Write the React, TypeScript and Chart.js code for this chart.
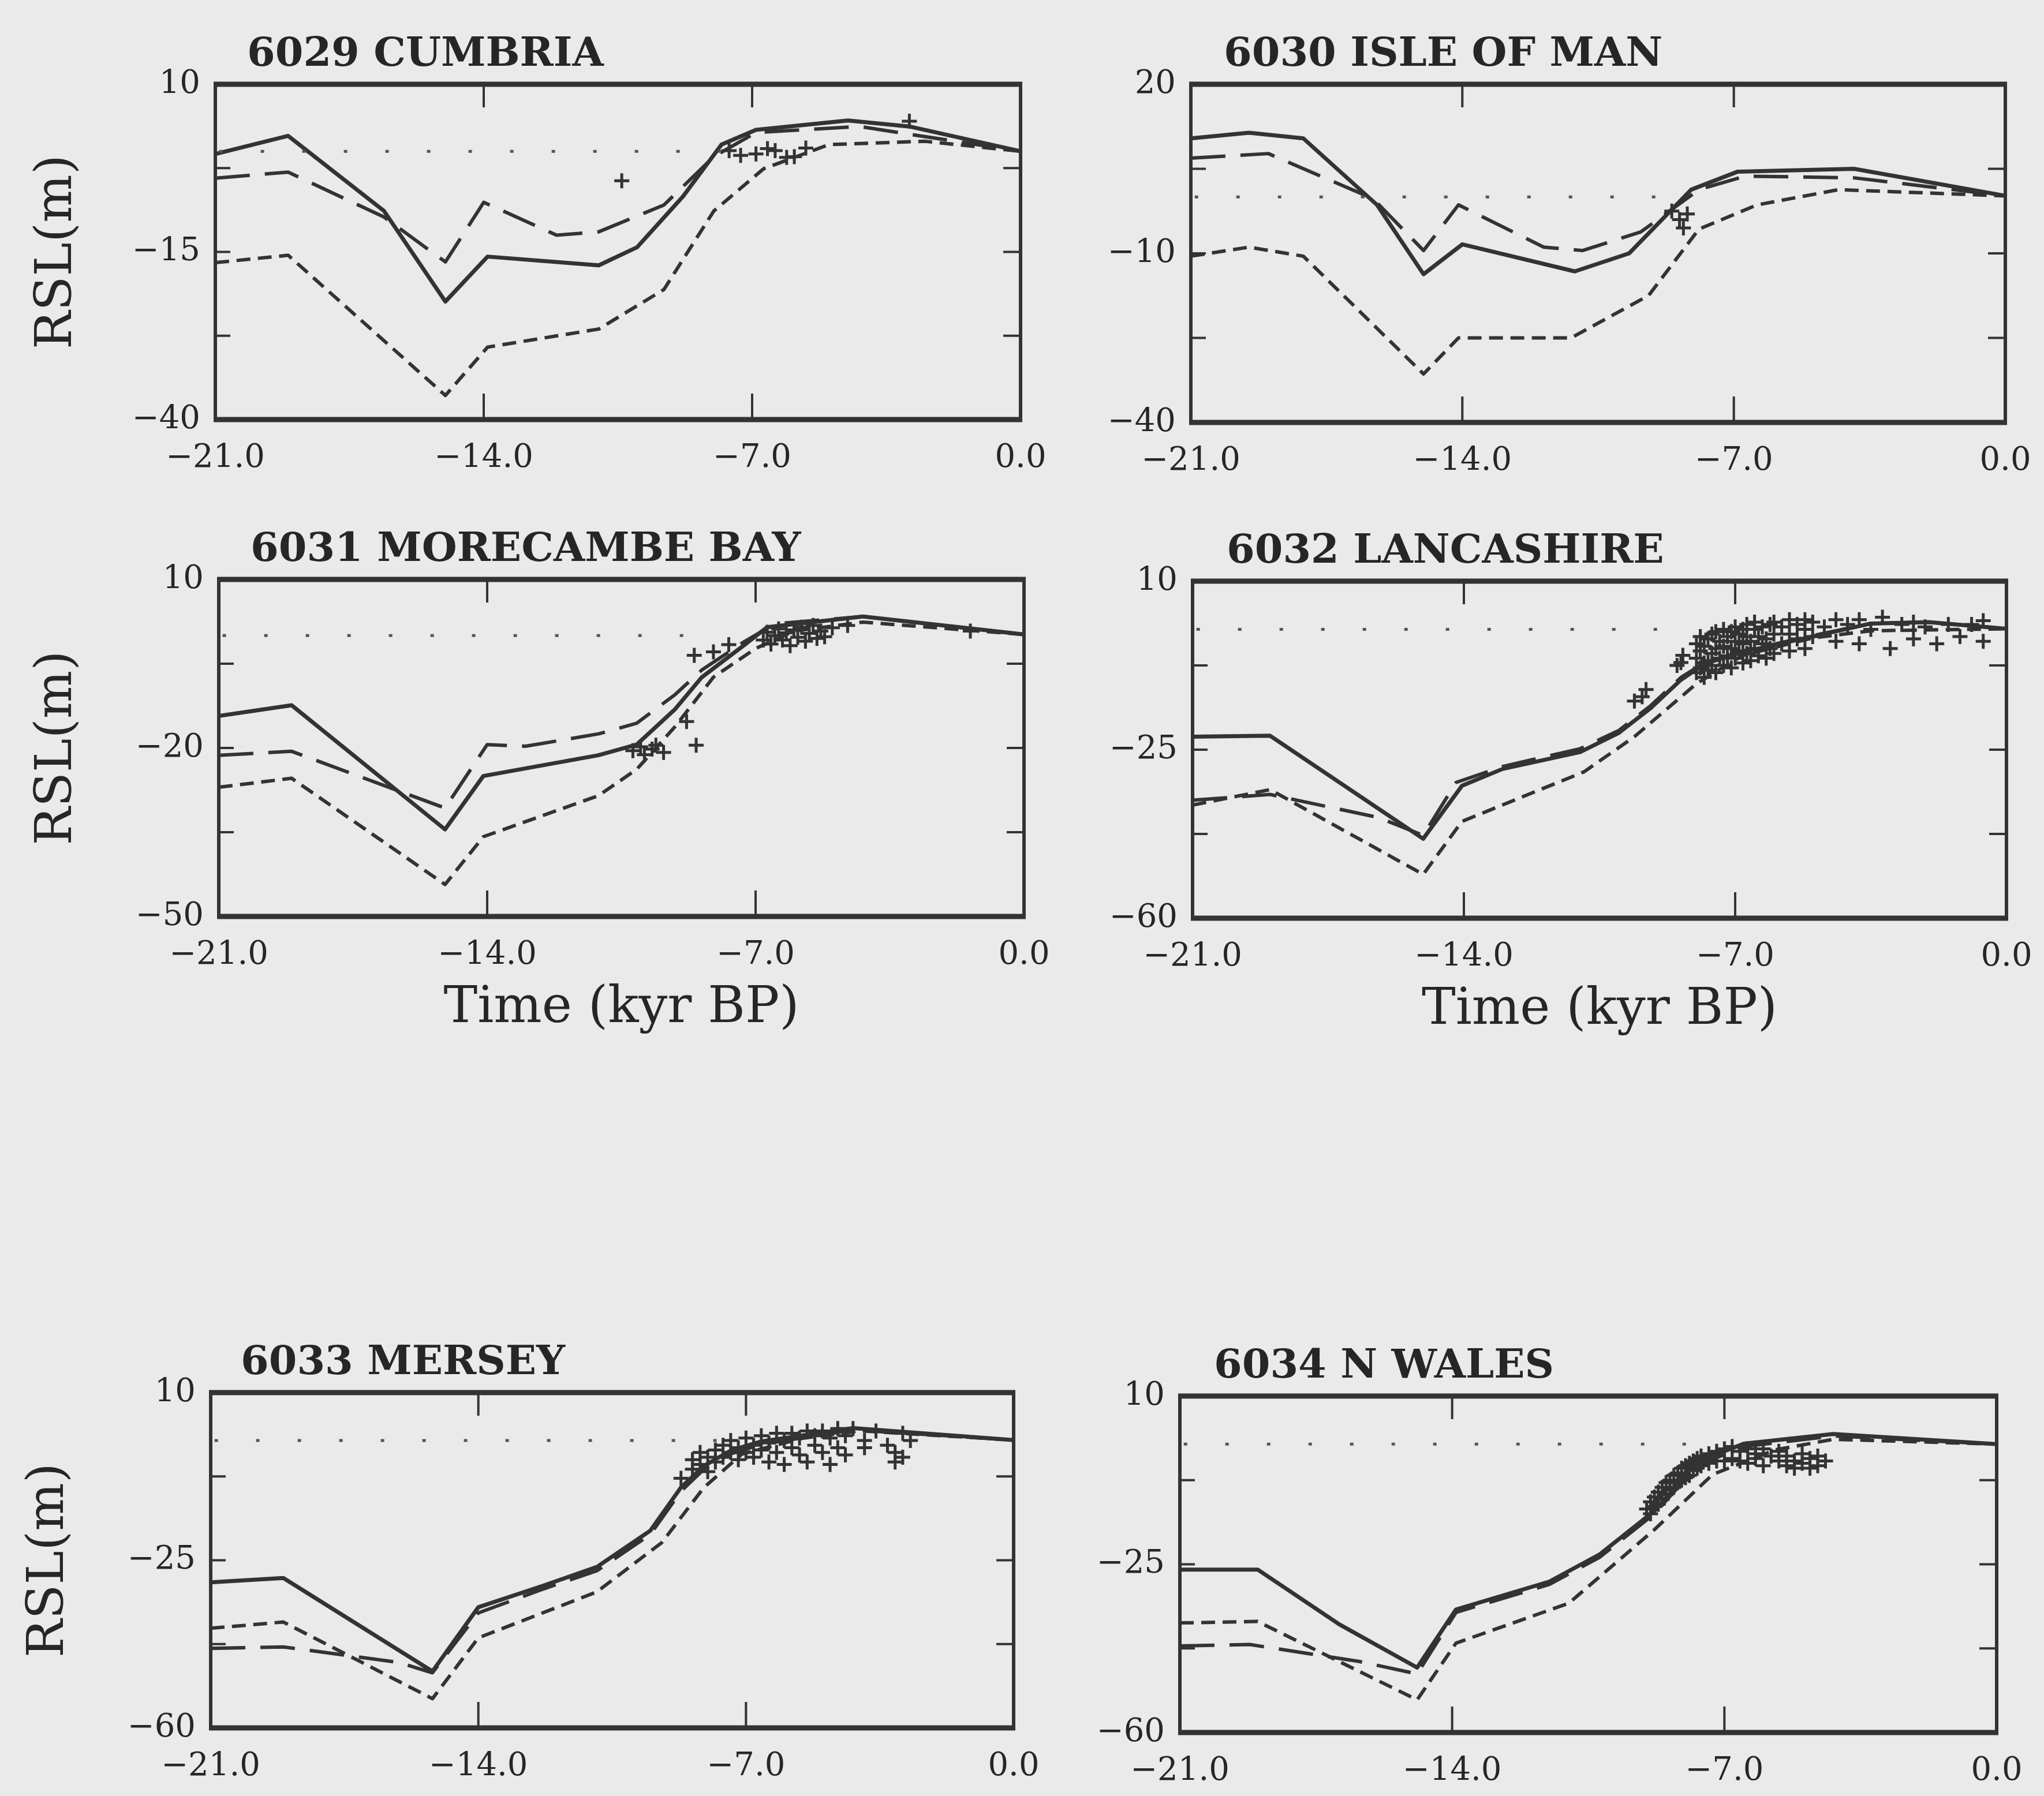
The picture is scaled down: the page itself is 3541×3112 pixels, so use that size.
import React, { useEffect, useRef } from 'react';
import { Chart, registerables } from 'chart.js';

Chart.register(...registerables);

type Pt = [number, number];

// ---------------- shared text / tick values ----------------
const timeTicks = [-21, -14, -7, 0];
const yAxisTitle = 'RSL(m)';
const xAxisTitle = 'Time (kyr BP)';
const panelTitles = [
  '6029 CUMBRIA',
  '6030 ISLE OF MAN',
  '6031 MORECAMBE BAY',
  '6032 LANCASHIRE',
  '6033 MERSEY',
  '6034 N WALES',
];

// ---------------- 6029 CUMBRIA ----------------
const cumbriaYTicks = [10, -2.5, -15, -27.5, -40];
const cumbriaYLabels = [10, -15, -40];
const cumbriaZeroEnd = -7.8;
const cumbriaSolid: Pt[] = [
  [-21, -0.4], [-19.1, 2.3], [-16.6, -8.9], [-15, -22.4], [-13.9, -15.7], [-11, -17],
  [-10, -14.3], [-8.8, -6.7], [-7.8, 1], [-6.9, 3.2], [-4.5, 4.6], [-2.9, 3.7], [0, 0],
];
const cumbriaLongDash: Pt[] = [
  [-21, -4], [-19.1, -3.1], [-16.6, -9.8], [-15, -16.5], [-14, -7.6], [-12.1, -12.5],
  [-11, -12], [-9.3, -8], [-8, -0.8], [-6.9, 2.8], [-4.2, 3.7], [0, 0],
];
const cumbriaShortDash: Pt[] = [
  [-21, -16.6], [-19.1, -15.5], [-15, -36.4], [-13.9, -29.2], [-11, -26.5], [-9.3, -20.6],
  [-8, -8.9], [-6.7, -2.6], [-5, 1], [-2.5, 1.5], [0, 0],
];
const cumbriaObs: Pt[] = [
  [-10.4, -4.4], [-7.6, 0.1], [-7.3, -0.6], [-6.9, -0.4], [-6.6, 0.4], [-6.4, 0.1],
  [-6.1, -0.9], [-5.9, -0.8], [-5.6, 0.5], [-2.9, 4.5],
];

// ---------------- 6030 ISLE OF MAN ----------------
const isleYTicks = [20, 5, -10, -25, -40];
const isleYLabels = [20, -10, -40];
const isleZeroEnd = -8.4;
const isleSolid: Pt[] = [
  [-21, 10.4], [-19.5, 11.4], [-18.1, 10.4], [-16.2, -1.4], [-15, -13.7], [-14, -8.4],
  [-11.1, -13.2], [-9.7, -10], [-8.1, 1.3], [-6.9, 4.5], [-3.9, 5], [0, 0.2],
];
const isleLongDash: Pt[] = [
  [-21, 6.9], [-19, 7.7], [-16.3, -0.3], [-15, -9.5], [-14.1, -1.4], [-11.9, -8.9],
  [-10.9, -9.5], [-9.4, -6.2], [-7.9, 1.3], [-6.7, 3.7], [-3.9, 3.4], [0, 0.2],
];
const isleShortDash: Pt[] = [
  [-21, -10.5], [-19.5, -8.9], [-18.1, -10.5], [-15, -31.4], [-14.1, -25], [-11.2, -25],
  [-9.2, -17.5], [-7.9, -5.7], [-6.4, -1.4], [-4.3, 1.3], [0, 0.2],
];
const isleObs: Pt[] = [[-8.6, -2.5], [-8.4, -4], [-8.3, -5.5], [-8.2, -3]];

// ---------------- 6031 MORECAMBE BAY ----------------
const morecambeYTicks = [10, -5, -20, -35, -50];
const morecambeYLabels = [10, -20, -50];
const morecambeZeroEnd = -8.7;
const morecambeSolid: Pt[] = [
  [-21, -14.3], [-19.1, -12.4], [-15.1, -34.5], [-14.1, -25], [-11.1, -21.3], [-10.1, -19.4],
  [-9.1, -13.1], [-8.4, -7.4], [-7.3, -1.7], [-6.7, 1.5], [-4.2, 3.4], [0, 0.2],
];
const morecambeLongDash: Pt[] = [
  [-21, -21.3], [-19.1, -20.6], [-15.1, -30.7], [-14, -19.4], [-13, -19.7], [-11.1, -17.5],
  [-10.1, -15.6], [-9.1, -10.5], [-8.4, -6.1], [-7.3, -1.1], [-6.5, 2.1], [-4.2, 3.4], [0, 0.2],
];
const morecambeShortDash: Pt[] = [
  [-21, -27], [-19.1, -25.4], [-15.1, -44.3], [-14.1, -35.8], [-11.1, -28.5], [-10.1, -23.8],
  [-9.1, -16.2], [-8.1, -7.4], [-7, -2.3], [-6, 0.8], [-4.2, 2.4], [0, 0.2],
];
const morecambeObs: Pt[] = [
  [-10.2, -20.5], [-10, -19.8], [-9.9, -21.2], [-9.7, -20.2], [-9.6, -19.5], [-9.4, -20.8],
  [-8.55, -19.5], [-8.8, -15.3], [-8.6, -3.5], [-8.1, -2.9], [-7.7, -1.6],
  [-6.8, -0.8], [-6.7, 0.6], [-6.6, -1.5], [-6.5, 0], [-6.4, 1.2], [-6.3, -0.8], [-6.2, 0.5],
  [-6.1, -1.8], [-6, 1], [-5.9, -0.3], [-5.8, 1.5], [-5.7, -1], [-5.6, 0.4], [-5.5, 1.8],
  [-5.4, -0.5], [-5.3, 0.8], [-5.2, -0.2], [-5, 1.4], [-4.6, 1.8], [-1.4, 0.8],
];

// ---------------- 6032 LANCASHIRE ----------------
const lancsYTicks = [10, -7.5, -25, -42.5, -60];
const lancsYLabels = [10, -25, -60];
const lancsZeroEnd = -8.7;
const lancsSolid: Pt[] = [
  [-21, -22.3], [-19, -22.1], [-15.05, -43.5], [-14.05, -32.5], [-13, -29], [-11, -25.5],
  [-10, -21.5], [-9.2, -16.5], [-8.4, -10.5], [-7.8, -7.2], [-6.8, -4.7], [-5, -1.5],
  [-3.5, 1.2], [-2, 1.5], [0, 0.1],
];
const lancsLongDash: Pt[] = [
  [-21, -35.5], [-19, -34.3], [-16.2, -39.1], [-15.05, -42.8], [-14.2, -31.8], [-13, -28.5],
  [-11, -24.8], [-10, -21], [-9.2, -16], [-8.4, -10], [-7.8, -7], [-6.8, -4.5], [-5, -1.3],
  [-3.5, 1.2], [-2, 1.5], [0, 0.1],
];
const lancsShortDash: Pt[] = [
  [-21, -36.5], [-19, -33.3], [-15.05, -50.9], [-14.05, -39.9], [-10.9, -29.6], [-9.6, -22.3],
  [-8, -11.3], [-6.8, -5.4], [-5, -1.8], [-3.5, -0.3], [0, 0.1],
];
const lancsObs: Pt[] = [
  [-9.6, -14.9], [-9.4, -14], [-9.3, -12.5], [-8.5, -7.5], [-8.4, -6.9], [-8.35, -5.4],
  [-8, -9], [-8, -6], [-8, -3], [-7.9, -8], [-7.9, -4.5], [-7.9, -1.5],
  [-7.8, -10], [-7.8, -7], [-7.8, -3.5], [-7.7, -6.5], [-7.7, -2], [-7.7, -8.5],
  [-7.6, -5], [-7.6, -1], [-7.6, -7.5], [-7.5, -9], [-7.5, -4], [-7.5, -0.5],
  [-7.4, -6], [-7.4, -2.5], [-7.3, -7.5], [-7.3, -3.5], [-7.3, 0], [-7.2, -5.5], [-7.2, -1.5],
  [-7.1, -8], [-7.1, -4], [-7.1, -0.5], [-7, -6], [-7, -2.5], [-7, 0.5], [-6.9, -4.5], [-6.9, -1],
  [-6.8, -7], [-6.8, -3], [-6.8, 0], [-6.7, -5], [-6.7, -1.5], [-6.7, 1], [-6.6, -6.5], [-6.6, -2.5],
  [-6.5, -4], [-6.5, 0], [-6.5, 1.5], [-6.4, -5.5], [-6.4, -1.5], [-6.3, -3], [-6.3, 0.5],
  [-6.2, -6], [-6.2, -2], [-6.1, -4], [-6.1, 1], [-6, -5], [-6, -1], [-6, 1.5],
  [-5.8, -3], [-5.8, 0.5], [-5.6, -4.5], [-5.6, -1], [-5.6, 2], [-5.4, -2], [-5.4, 1],
  [-5.2, -4], [-5.2, 0], [-5.2, 2], [-5, -1.5], [-5, 1.5],
  [-4.7, 0.5], [-4.4, -2.5], [-4.4, 2], [-4.1, 1], [-3.8, -3], [-3.8, 2], [-3.5, 0],
  [-3.2, 2.5], [-3, -4], [-2.7, 1], [-2.4, -2], [-2.4, 1.5], [-2.1, 0.5], [-1.8, -3],
  [-1.5, 1], [-1.2, -1.5], [-0.9, 1], [-0.6, -2.5], [-0.6, 1.8],
];

// ---------------- 6033 MERSEY ----------------
const merseyYTicks = [10, -7.5, -25, -42.5, -60];
const merseyYLabels = [10, -25, -60];
const merseyZeroEnd = -7.6;
const merseySolid: Pt[] = [
  [-21, -29.6], [-19.1, -28.7], [-15.2, -48.2], [-14, -34.8], [-12.3, -30.3], [-10.9, -26.4],
  [-9.5, -18.8], [-8.7, -9.8], [-8.1, -5.3], [-7.4, -2.1], [-6.6, -0.2], [-4.2, 2.6], [0, 0.1],
];
const merseyLongDash: Pt[] = [
  [-21, -43.4], [-19.1, -43.1], [-16.1, -46.3], [-15.2, -48.5], [-14, -36], [-12.3, -31],
  [-10.9, -27.2], [-9.5, -19.6], [-8.7, -10.6], [-8.1, -6], [-7.4, -2.8], [-6.6, -0.8],
  [-4.2, 2.2], [0, 0.1],
];
const merseyShortDash: Pt[] = [
  [-21, -39.2], [-19.1, -37.9], [-15.2, -53.9], [-14, -41.2], [-10.9, -31.6], [-9.2, -21.3],
  [-8.1, -9.8], [-7.1, -2.8], [-5.5, 0.5], [-4, 2], [0, 0.1],
];
const merseyObs: Pt[] = [
  [-8.7, -7.9], [-8.4, -6], [-8.4, -4], [-8.2, -5], [-8.2, -2.5], [-8, -3.5], [-8, -6.5],
  [-7.8, -2], [-7.8, -4.5], [-7.6, -1], [-7.6, -3.5], [-7.4, -2.5], [-7.4, 0], [-7.2, -1.5],
  [-7.2, -4], [-7, 0.5], [-7, -2.5], [-6.8, -1], [-6.8, -3.5], [-6.6, 1], [-6.6, -2],
  [-6.4, -0.5], [-6.4, -4.5], [-6.2, 1.5], [-6.2, -2.5], [-6, 0], [-6, -5], [-5.8, 1.5],
  [-5.8, -1.5], [-5.6, -3], [-5.6, 0.5], [-5.4, 2], [-5.4, -4.5], [-5.2, -1], [-5.2, 1],
  [-5, -2.5], [-5, 2], [-4.8, 0.5], [-4.8, -5], [-4.6, 2.5], [-4.6, -1.5], [-4.4, 1],
  [-4.4, -3], [-4.2, 2.5], [-3.9, 0], [-3.9, -1.5], [-3.6, 2], [-3.3, -1], [-3.1, -4.5],
  [-3.1, -2.5], [-2.9, 1.5], [-2.9, -3.5], [-2.7, 0],
];

// ---------------- 6034 N WALES ----------------
const walesYTicks = [10, -7.5, -25, -42.5, -60];
const walesYLabels = [10, -25, -60];
const walesZeroEnd = -7.9;
const walesSolid: Pt[] = [
  [-21, -26.1], [-19, -26.1], [-16.9, -37.5], [-14.9, -46.5], [-13.9, -34.4], [-11.5, -28.6],
  [-10.2, -22.9], [-8.8, -13.9], [-7.7, -3.7], [-6.5, 0.1], [-4.2, 2.1], [0, 0],
];
const walesLongDash: Pt[] = [
  [-21, -42], [-19.2, -41.7], [-16.4, -45.2], [-14.9, -47.8], [-13.9, -35], [-11.5, -29.2],
  [-10.2, -23.5], [-8.8, -14.5], [-7.7, -4.5], [-6.5, -0.5], [-4.2, 1.7], [0, 0],
];
const walesShortDash: Pt[] = [
  [-21, -37.2], [-19, -36.9], [-14.9, -53.2], [-13.9, -41.4], [-11, -33.1], [-8.8, -17.8],
  [-7.3, -6.3], [-5.7, -1.2], [-4.2, 1], [0, 0],
];
const walesObs: Pt[] = [
  [-9, -13.5], [-8.9, -12], [-8.9, -14.5], [-8.8, -11], [-8.8, -13], [-8.7, -10], [-8.7, -12.5],
  [-8.6, -9], [-8.6, -11.5], [-8.5, -8], [-8.5, -10.5], [-8.4, -7.5], [-8.4, -9.5], [-8.3, -6.5],
  [-8.3, -9], [-8.2, -6], [-8.2, -8], [-8.1, -5], [-8.1, -7.5], [-8, -4.5], [-8, -7],
  [-7.9, -4], [-7.9, -6.5], [-7.8, -3.5], [-7.8, -5.5], [-7.7, -3], [-7.7, -5], [-7.6, -2.5],
  [-7.6, -4.5], [-7.4, -2], [-7.4, -4], [-7.2, -1.5], [-7.2, -3.5], [-7, -1], [-7, -3.5],
  [-6.8, -0.5], [-6.8, -3], [-6.6, -1.5], [-6.6, -3.5], [-6.4, -1], [-6.4, -4], [-6.2, -2],
  [-6.2, -3], [-6, -1], [-6, -4.5], [-5.8, -2.5], [-5.6, -3.5], [-5.6, -1.5], [-5.4, -4.5],
  [-5.4, -2.5], [-5.2, -3.5], [-5.2, -5], [-5, -2], [-5, -4], [-4.8, -5], [-4.8, -3],
  [-4.6, -2.5], [-4.6, -4.5], [-4.4, -3.5],
];

// ---------------- styling / layout ----------------
const BG = '#eaeaea';
const INK = '#262626';
const LINE = '#333333';
const FRAME = '#333333';
const DOTS = '#555555';
const SERIF = '"DejaVu Serif", "Liberation Serif", serif';

const RIGHT_COL_X = 1820;
const TOP_SPACE = 140;
const RIGHT_PAD = 110;
const TITLE_SIZE = 70;
const TITLE_GAP = 8;

type Box = { L: number; R: number; T: number; B: number };
type PanelCfg = {
  title: string;
  yTicks: number[];
  yLabels: number[];
  zeroEnd: number;
  solid: Pt[];
  longDash: Pt[];
  shortDash: Pt[];
  obs: Pt[];
  left: boolean;
  xTitle: boolean;
  box: Box;
  titleLeft: number;
  yTitlePad: number;
};

const panels: PanelCfg[] = [
  {
    title: panelTitles[0], yTicks: cumbriaYTicks, yLabels: cumbriaYLabels, zeroEnd: cumbriaZeroEnd,
    solid: cumbriaSolid, longDash: cumbriaLongDash, shortDash: cumbriaShortDash, obs: cumbriaObs,
    left: true, xTitle: false, box: { L: 373, R: 1768, T: 146, B: 727 }, titleLeft: 428, yTitlePad: 47,
  },
  {
    title: panelTitles[1], yTicks: isleYTicks, yLabels: isleYLabels, zeroEnd: isleZeroEnd,
    solid: isleSolid, longDash: isleLongDash, shortDash: isleShortDash, obs: isleObs,
    left: false, xTitle: false, box: { L: 2063, R: 3474, T: 146, B: 732 }, titleLeft: 2120, yTitlePad: 0,
  },
  {
    title: panelTitles[2], yTicks: morecambeYTicks, yLabels: morecambeYLabels, zeroEnd: morecambeZeroEnd,
    solid: morecambeSolid, longDash: morecambeLongDash, shortDash: morecambeShortDash, obs: morecambeObs,
    left: true, xTitle: true, box: { L: 379, R: 1774, T: 1004, B: 1588 }, titleLeft: 434, yTitlePad: 47,
  },
  {
    title: panelTitles[3], yTicks: lancsYTicks, yLabels: lancsYLabels, zeroEnd: lancsZeroEnd,
    solid: lancsSolid, longDash: lancsLongDash, shortDash: lancsShortDash, obs: lancsObs,
    left: false, xTitle: true, box: { L: 2066, R: 3476, T: 1007, B: 1591 }, titleLeft: 2125, yTitlePad: 0,
  },
  {
    title: panelTitles[4], yTicks: merseyYTicks, yLabels: merseyYLabels, zeroEnd: merseyZeroEnd,
    solid: merseySolid, longDash: merseyLongDash, shortDash: merseyShortDash, obs: merseyObs,
    left: true, xTitle: false, box: { L: 365, R: 1756, T: 2413, B: 2994 }, titleLeft: 417, yTitlePad: 33,
  },
  {
    title: panelTitles[5], yTicks: walesYTicks, yLabels: walesYLabels, zeroEnd: walesZeroEnd,
    solid: walesSolid, longDash: walesLongDash, shortDash: walesShortDash, obs: walesObs,
    left: false, xTitle: false, box: { L: 2044, R: 3459, T: 2419, B: 3002 }, titleLeft: 2103, yTitlePad: 0,
  },
];

const fmtMinus = (s: string) => s.replace('-', '\u2212');
const fmtX = (v: number) => fmtMinus(v.toFixed(1));
const fmtY = (v: number) => fmtMinus(String(v));

function Panel({ cfg }: { cfg: PanelCfg }) {
  const ref = useRef<HTMLCanvasElement | null>(null);
  const cx = cfg.left ? 0 : RIGHT_COL_X;
  const cy = cfg.box.T - TOP_SPACE;
  const xAxisH = cfg.xTitle ? 230 : 115;
  const w = cfg.box.R + RIGHT_PAD - cx;
  const h = cfg.box.B + xAxisH - cy;
  const yAxisW = cfg.box.L - cx;

  useEffect(() => {
    const canvas = ref.current;
    if (!canvas) return;
    const toXY = (a: Pt[]) => a.map(([x, y]) => ({ x, y }));
    const yMax = cfg.yTicks[0];
    const yMin = cfg.yTicks[cfg.yTicks.length - 1];
    const lh = TITLE_SIZE * 1.2;

    const framePlugin = {
      id: 'frame',
      afterDatasetsDraw(chart: any) {
        const { ctx, chartArea } = chart;
        const { left, right, top, bottom } = chartArea;
        const xs = chart.scales.x;
        const ys = chart.scales.y;
        ctx.save();
        ctx.strokeStyle = FRAME;
        ctx.lineCap = 'butt';
        ctx.lineWidth = 6;
        ctx.beginPath();
        ctx.moveTo(left, top - 4);
        ctx.lineTo(left, bottom + 4);
        ctx.moveTo(right, top - 4);
        ctx.lineTo(right, bottom + 4);
        ctx.stroke();
        ctx.lineWidth = 9;
        ctx.beginPath();
        ctx.moveTo(left - 3, top);
        ctx.lineTo(right + 3, top);
        ctx.moveTo(left - 3, bottom);
        ctx.lineTo(right + 3, bottom);
        ctx.stroke();
        ctx.lineWidth = 4;
        ctx.beginPath();
        xs.ticks.forEach((t: any) => {
          if (t.value <= xs.min || t.value >= xs.max) return;
          const px = xs.getPixelForValue(t.value);
          ctx.moveTo(px, top);
          ctx.lineTo(px, top + 40);
          ctx.moveTo(px, bottom);
          ctx.lineTo(px, bottom - 45);
        });
        ys.ticks.forEach((t: any) => {
          if (t.value <= ys.min || t.value >= ys.max) return;
          const py = ys.getPixelForValue(t.value);
          ctx.moveTo(left, py);
          ctx.lineTo(left + 26, py);
          ctx.moveTo(right, py);
          ctx.lineTo(right - 30, py);
        });
        ctx.stroke();
        ctx.restore();
      },
    };

    const titleShift = {
      id: 'titleShift',
      afterLayout(chart: any) {
        const tb = chart.titleBlock;
        if (tb) {
          const d = cfg.titleLeft - cx - tb.left;
          tb.left += d;
          tb.right += d;
        }
      },
    };

    const lineDs = (label: string, data: Pt[], dash: number[], width: number, color: string) => ({
      label,
      data: toXY(data),
      showLine: true,
      borderColor: color,
      borderWidth: width,
      borderDash: dash,
      pointRadius: 0,
      tension: 0,
      borderJoinStyle: 'round',
    });

    const chart = new Chart(canvas, {
      type: 'scatter',
      data: {
        datasets: [
          lineDs('present sea level', [[-20.9, 0], [cfg.zeroEnd, 0]], [6, 66], 5, DOTS),
          lineDs('model A', cfg.solid, [], 7, LINE),
          lineDs('model B', cfg.longDash, [60, 26], 6, LINE),
          lineDs('model C', cfg.shortDash, [24, 13], 6, LINE),
          {
            label: 'observations',
            data: toXY(cfg.obs),
            showLine: false,
            pointStyle: 'cross',
            pointRadius: 13,
            borderColor: LINE,
            borderWidth: 5,
          },
        ],
      } as any,
      options: {
        animation: false,
        responsive: false,
        events: [],
        layout: { padding: { left: 0, right: RIGHT_PAD, top: 0, bottom: 0 } },
        plugins: {
          legend: { display: false },
          tooltip: { enabled: false },
          title: {
            display: true,
            text: cfg.title,
            align: 'start',
            color: INK,
            font: { family: SERIF, size: TITLE_SIZE, weight: 'bold' },
            padding: { top: TOP_SPACE - lh - TITLE_GAP, bottom: TITLE_GAP },
          },
        },
        scales: {
          x: {
            type: 'linear',
            min: -21,
            max: 0,
            afterBuildTicks: (s: any) => {
              s.ticks = timeTicks.map((v) => ({ value: v }));
            },
            afterFit: (s: any) => {
              s.height = xAxisH;
            },
            grid: { display: false, drawTicks: false },
            border: { display: false },
            ticks: {
              autoSkip: false,
              maxRotation: 0,
              padding: 34,
              color: INK,
              font: { family: SERIF, size: 56 },
              callback: (v: any) => fmtX(Number(v)),
            },
            title: {
              display: cfg.xTitle,
              text: xAxisTitle,
              color: INK,
              font: { family: SERIF, size: 88 },
              padding: { top: 0, bottom: 17 },
            },
          },
          y: {
            type: 'linear',
            min: yMin,
            max: yMax,
            afterBuildTicks: (s: any) => {
              s.ticks = cfg.yTicks.map((v) => ({ value: v }));
            },
            afterFit: (s: any) => {
              s.width = yAxisW;
            },
            grid: { display: false, drawTicks: false },
            border: { display: false },
            ticks: {
              autoSkip: false,
              padding: 26,
              color: INK,
              font: { family: SERIF, size: 56 },
              callback: (v: any) => (cfg.yLabels.includes(Number(v)) ? fmtY(Number(v)) : ''),
            },
            title: {
              display: cfg.left,
              text: yAxisTitle,
              color: INK,
              font: { family: SERIF, size: 88 },
              padding: { top: cfg.yTitlePad, bottom: 0 },
            },
          },
        },
      } as any,
      plugins: [framePlugin, titleShift] as any,
    });
    return () => chart.destroy();
  }, [cfg]);

  return (
    <canvas
      ref={ref}
      width={w}
      height={h}
      style={{ position: 'absolute', left: cx, top: cy, width: w, height: h }}
    />
  );
}

export default function App() {
  useEffect(() => {
    document.body.style.background = BG;
    document.body.style.margin = '0';
  }, []);
  return (
    <div
      style={{
        position: 'absolute',
        left: 0,
        top: 0,
        width: 3541,
        height: 3112,
        background: BG,
        overflow: 'hidden',
      }}
    >
      {panels.map((p, i) => (
        <Panel key={i} cfg={p} />
      ))}
    </div>
  );
}
